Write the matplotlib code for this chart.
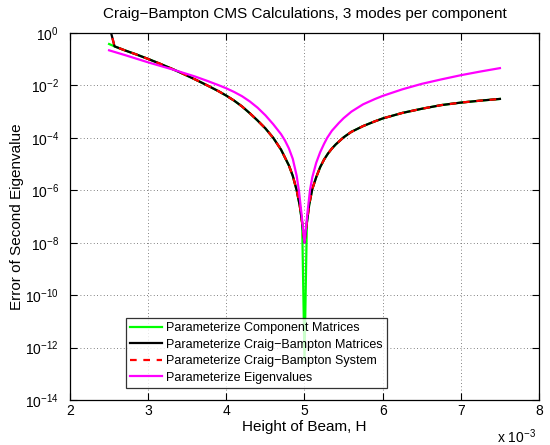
import math
import matplotlib
matplotlib.use("Agg")
import matplotlib.pyplot as plt
import numpy as np
from matplotlib.ticker import FixedLocator, FuncFormatter, NullLocator

plt.rcParams['font.family'] = ['Liberation Sans', 'DejaVu Sans']
plt.rcParams['mathtext.fontset'] = 'custom'
plt.rcParams['mathtext.rm'] = 'Liberation Sans'
plt.rcParams['mathtext.it'] = 'Liberation Sans'
plt.rcParams['mathtext.default'] = 'regular'

# ---- data: beam height (units of 1e-3) and log10 of eigenvalue error ----
H_cm = [2.50, 2.57, 2.70, 2.85, 3.00, 3.15, 3.30, 3.45, 3.60, 3.75, 3.90, 4.00, 4.10, 4.20,
        4.30, 4.40, 4.50, 4.60, 4.70, 4.80, 4.85, 4.90, 4.94, 4.97, 5.00, 5.03, 5.06, 5.10,
        5.15, 5.20, 5.25, 5.30, 5.35, 5.40, 5.50, 5.60, 5.75, 5.90, 6.00, 6.25, 6.50, 6.75,
        7.00, 7.25, 7.50]
log_err_component = [-0.42, -0.51, -0.66, -0.82, -0.99, -1.17, -1.36, -1.56, -1.77, -1.99,
                     -2.22, -2.39, -2.58, -2.80, -3.06, -3.34, -3.64, -4.00, -4.45, -5.05,
                     -5.45, -6.00, -6.60, -7.25, -12.5, -7.25, -6.55, -5.95, -5.50, -5.12,
                     -4.83, -4.60, -4.41, -4.25, -3.98, -3.77, -3.55, -3.37, -3.26, -3.05,
                     -2.89, -2.75, -2.655, -2.58, -2.515]

H_cbm = [2.50, 2.57, 2.70, 2.85, 3.00, 3.15, 3.30, 3.45, 3.60, 3.75, 3.90, 4.00, 4.10, 4.20,
         4.30, 4.40, 4.50, 4.60, 4.70, 4.80, 4.85, 4.90, 4.94, 4.97, 5.00, 5.03, 5.06, 5.10,
         5.15, 5.20, 5.25, 5.30, 5.35, 5.40, 5.50, 5.60, 5.75, 5.90, 6.00, 6.25, 6.50, 6.75,
         7.00, 7.25, 7.50]
log_err_cb_matrices = [0.30, -0.51, -0.66, -0.82, -0.99, -1.17, -1.36, -1.56, -1.77, -1.99,
                       -2.22, -2.39, -2.58, -2.80, -3.06, -3.34, -3.64, -4.00, -4.45, -5.05,
                       -5.45, -6.00, -6.60, -7.25, -8.00, -7.25, -6.55, -5.95, -5.50, -5.12,
                       -4.83, -4.60, -4.41, -4.25, -3.98, -3.77, -3.55, -3.37, -3.26, -3.05,
                       -2.89, -2.75, -2.655, -2.58, -2.515]

H_cbs = [2.50, 2.57, 2.70, 2.85, 3.00, 3.15, 3.30, 3.45, 3.60, 3.75, 3.90, 4.00, 4.10, 4.20,
         4.30, 4.40, 4.50, 4.60, 4.70, 4.80, 4.85, 4.90, 4.94, 4.97, 5.00, 5.03, 5.06, 5.10,
         5.15, 5.20, 5.25, 5.30, 5.35, 5.40, 5.50, 5.60, 5.75, 5.90, 6.00, 6.25, 6.50, 6.75,
         7.00, 7.25, 7.50]
log_err_cb_system = [0.30, -0.51, -0.66, -0.82, -0.99, -1.17, -1.36, -1.56, -1.77, -1.99,
                     -2.22, -2.39, -2.58, -2.80, -3.06, -3.34, -3.64, -4.00, -4.45, -5.05,
                     -5.45, -6.00, -6.60, -7.25, -8.00, -7.25, -6.55, -5.95, -5.50, -5.12,
                     -4.83, -4.60, -4.41, -4.25, -3.98, -3.77, -3.55, -3.37, -3.26, -3.05,
                     -2.89, -2.75, -2.655, -2.58, -2.515]

H_eig = [2.50, 2.70, 2.85, 3.00, 3.15, 3.30, 3.45, 3.60, 3.75, 3.90, 4.00, 4.10, 4.20, 4.30,
         4.40, 4.50, 4.60, 4.70, 4.75, 4.80, 4.85, 4.90, 4.93, 4.96, 5.00, 5.04, 5.07, 5.10,
         5.15, 5.20, 5.25, 5.29, 5.35, 5.44, 5.50, 5.60, 5.75, 5.90, 6.00, 6.25, 6.50, 6.75,
         7.00, 7.25, 7.50]
log_err_eigen = [-0.66, -0.84, -0.98, -1.12, -1.25, -1.38, -1.52, -1.66, -1.82, -1.99, -2.11,
                 -2.25, -2.41, -2.61, -2.85, -3.14, -3.48, -3.86, -4.10, -4.40, -4.80, -5.45,
                 -6.05, -6.85, -8.00, -6.80, -6.00, -5.50, -4.95, -4.55, -4.23, -4.00, -3.73,
                 -3.43, -3.25, -3.00, -2.72, -2.52, -2.40, -2.15, -1.94, -1.77, -1.61, -1.47,
                 -1.34]

labels = ['Parameterize Component Matrices',
          'Parameterize Craig\u2212Bampton Matrices',
          'Parameterize Craig\u2212Bampton System',
          'Parameterize Eigenvalues']
x_ticks = [2, 3, 4, 5, 6, 7, 8]
y_ticks = [1e-14, 1e-12, 1e-10, 1e-8, 1e-6, 1e-4, 1e-2, 1e0]

fig = plt.figure(figsize=(5.5, 4.45), dpi=100)
ax = fig.add_axes([70 / 550, 1 - 400 / 445, 469 / 550, 367 / 445])

lw = 1.6
ax.semilogy(H_cm, 10.0 ** np.array(log_err_component), color=(0, 1, 0), lw=lw, label=labels[0])
ax.semilogy(H_cbm, 10.0 ** np.array(log_err_cb_matrices), color='k', lw=lw, label=labels[1])
ax.semilogy(H_cbs, 10.0 ** np.array(log_err_cb_system), color=(1, 0, 0), lw=lw,
            ls=(0, (3, 3)), label=labels[2])
ax.semilogy(H_eig, 10.0 ** np.array(log_err_eigen), color=(1, 0, 1), lw=lw, label=labels[3])

ax.set_xlim(2, 8)
ax.set_ylim(1e-14, 1)
ax.xaxis.set_major_locator(FixedLocator(x_ticks))
ax.yaxis.set_major_locator(FixedLocator(y_ticks))
ax.yaxis.set_minor_locator(NullLocator())
ax.xaxis.set_major_formatter(FuncFormatter(lambda v, p: f'{v:g}'))
ax.yaxis.set_major_formatter(FuncFormatter(lambda v, p: r'$10^{%d}$' % round(math.log10(v))))
ax.tick_params(direction='in', length=5, width=0.8, top=True, right=True, labelsize=10)
ax.tick_params(axis='y', pad=8)
ax.tick_params(axis='x', pad=3)
for s in ax.spines.values():
    s.set_linewidth(0.9)
ax.grid(True, which='major', ls=(0, (1, 3)), color='0.35', lw=0.6)

ax.set_title('Craig\u2212Bampton CMS Calculations, 3 modes per component', fontsize=11, pad=11)
ax.set_xlabel('Height of Beam, H', fontsize=11, labelpad=1)
ax.set_ylabel('Error of Second Eigenvalue', fontsize=11, labelpad=1)
fig.text(497 / 550, 1 - 437 / 445, r'x 10$^{-3}$', fontsize=10, va='center', ha='left')

leg = ax.legend(loc='lower left', bbox_to_anchor=(126 / 550, 1 - 388 / 445),
                bbox_transform=fig.transFigure, fontsize=9, frameon=True, fancybox=False,
                edgecolor='k', borderaxespad=0, handlelength=2.5, handletextpad=0.35,
                labelspacing=0.36, borderpad=0.35)
leg.get_frame().set_linewidth(0.9)

fig.savefig('out.png', dpi=100)
